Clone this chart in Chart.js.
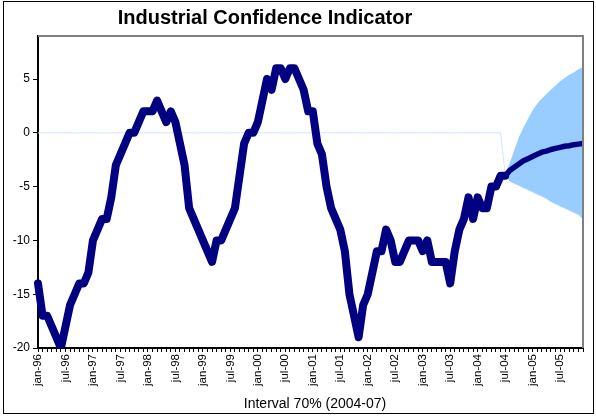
<!DOCTYPE html>
<html>
<head>
<meta charset="utf-8">
<script src="https://cdn.jsdelivr.net/npm/chart.js@4.4.0/dist/chart.umd.min.js"></script>
<style>
  body { margin: 0; background: #fff; }
  #wrap { width: 596px; height: 416px; position: relative; }
</style>
</head>
<body>
<div id="wrap"><canvas id="grafico"></canvas></div>
<script>
// categorias (meses jan-96 .. dec-05)
const anos = ['96', '97', '98', '99', '00', '01', '02', '03', '04', '05'];
const meses = ['jan', 'feb', 'mar', 'apr', 'may', 'jun', 'jul', 'aug', 'sep', 'oct', 'nov', 'dec'];
const rotulos = anos.flatMap(a => meses.map(m => m + '-' + a));

// valores observados jan-96 .. jul-04
const observado = [
  -14, -17, -17, -18, -19, -20, -18, -16, -15, -14, -14, -13,
  -10, -9, -8, -8, -6, -3, -2, -1, 0, 0, 1, 2,
  2, 2, 3, 2, 1, 2, 1, -1, -3, -7, -8, -9,
  -10, -11, -12, -10, -10, -9, -8, -7, -4, -1, 0, 0,
  1, 3, 5, 4, 6, 6, 5, 6, 6, 5, 4, 2,
  2, -1, -2, -5, -7, -8, -9, -11, -15, -17, -19, -16,
  -15, -13, -11, -11, -9, -10, -12, -12, -11, -10, -10, -10,
  -11, -10, -12, -12, -12, -12, -14, -11, -9, -8, -6, -8,
  -6, -7, -7, -5, -5, -4, -4
];

// previsão jul-04 .. dec-05
const previsao = [-4.0, -3.5, -3.2, -2.9, -2.6, -2.4, -2.2, -2.0, -1.8, -1.7, -1.55, -1.45, -1.35, -1.25, -1.2, -1.1, -1.05, -1.0];
const limiteSup = [-3.8, -2.8, -1.6, -0.4, 0.5, 1.3, 2.1, 2.7, 3.2, 3.6, 4.0, 4.4, 4.8, 5.1, 5.4, 5.6, 5.9, 6.1];
const limiteInf = [-3.8, -4.5, -4.7, -4.9, -5.1, -5.3, -5.5, -5.7, -5.9, -6.1, -6.4, -6.6, -6.8, -7.0, -7.2, -7.4, -7.6, -8.0];
const inicioPrev = 102; // jul-04

const vazio = Array(inicioPrev).fill(null);
const base = Array(inicioPrev).fill(0).concat(limiteInf); // serie base (0 antes da previsão)

const fonte = "'Liberation Sans', Arial, sans-serif";
const titulo = 'Industrial Confidence Indicator';
const legenda = 'Interval 70% (2004-07)';

// moldura externa, titulo, legenda e borda cinza da area do grafico
const moldura = {
  id: 'moldura',
  beforeDraw(chart) {
    const c = chart.ctx;
    c.save();
    c.fillStyle = '#fff';
    c.fillRect(0, 0, chart.width, chart.height);
    c.fillStyle = '#000';
    c.textAlign = 'center';
    c.textBaseline = 'middle';
    c.font = 'bold 20px ' + fonte;
    c.fillText(titulo, 265, 18);
    c.font = '14px ' + fonte;
    c.fillText(legenda, 315, 404);
    c.restore();
  },
  afterDatasetsDraw(chart) {
    const c = chart.ctx, a = chart.chartArea;
    c.save();
    c.strokeStyle = '#808080';
    c.lineWidth = 2;
    c.beginPath();
    c.moveTo(a.left, a.top);
    c.lineTo(a.right, a.top);
    c.lineTo(a.right, a.bottom);
    c.stroke();
    c.restore();
  },
  afterDraw(chart) {
    const c = chart.ctx;
    c.save();
    c.strokeStyle = '#000';
    c.lineWidth = 1;
    c.strokeRect(3.5, 1.5, 590, 412);
    c.restore();
  }
};

new Chart(document.getElementById('grafico'), {
  type: 'line',
  data: {
    labels: rotulos,
    datasets: [
      {
        label: 'Industrial Confidence',
        data: observado,
        borderColor: '#000080',
        borderWidth: 8,
        borderJoinStyle: 'round',
        borderCapStyle: 'round',
        pointRadius: 0,
        fill: false
      },
      {
        label: 'Forecast',
        data: vazio.concat(previsao),
        borderColor: '#000080',
        borderWidth: 5.5,
        borderJoinStyle: 'round',
        pointRadius: 0,
        fill: false
      },
      {
        label: legenda,
        data: vazio.concat(limiteSup),
        borderWidth: 0,
        borderColor: 'rgba(0,0,0,0)',
        backgroundColor: '#99ccff',
        pointRadius: 0,
        fill: '+1'
      },
      {
        label: 'base',
        data: base,
        borderColor: '#cfe6ff',
        borderWidth: 1,
        pointRadius: 0,
        fill: false
      }
    ]
  },
  options: {
    responsive: true,
    maintainAspectRatio: false,
    animation: false,
    layout: { padding: { left: 0, right: 13, top: 36, bottom: 0 } },
    scales: {
      x: {
        offset: false,
        grid: { display: true, drawOnChartArea: false, drawTicks: true, tickLength: 4, color: '#000' },
        border: { color: '#000', width: 2 },
        ticks: {
          autoSkip: false,
          minRotation: 90,
          maxRotation: 90,
          padding: 2,
          color: '#000',
          font: { family: fonte, size: 11.5 },
          callback: function (v, i) { return i % 6 === 0 ? this.getLabelForValue(v) : ''; }
        },
        afterFit(s) { s.height = 68; s.paddingRight = 0; s.paddingLeft = 0; }
      },
      y: {
        min: -20,
        max: 9,
        grid: { display: true, drawOnChartArea: false, drawTicks: true, tickLength: 5, color: '#000' },
        border: { color: '#000', width: 2 },
        ticks: {
          stepSize: 5,
          includeBounds: false,
          padding: 3,
          color: '#000',
          font: { family: fonte, size: 12 }
        },
        afterFit(s) { s.width = 38; }
      }
    },
    plugins: {
      title: { display: false },
      legend: { display: false },
      tooltip: { enabled: false }
    }
  },
  plugins: [moldura]
});
</script>
</body>
</html>
